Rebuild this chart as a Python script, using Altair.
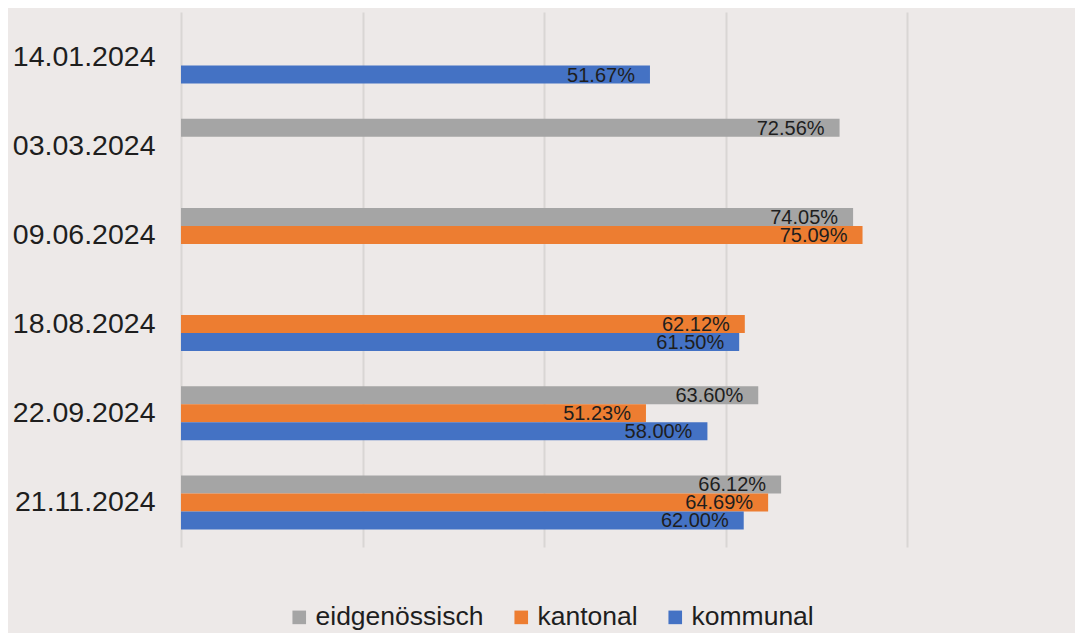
import altair as alt
import pandas as pd

dates = ["14.01.2024", "03.03.2024", "09.06.2024", "18.08.2024", "22.09.2024", "21.11.2024"]
series = ["eidgenössisch", "kantonal", "kommunal"]
colors = ["#A5A5A5", "#ED7D31", "#4472C4"]

eidgenoessisch = [None, 72.56, 74.05, None, 63.60, 66.12]
kantonal = [None, None, 75.09, 62.12, 51.23, 64.69]
kommunal = [51.67, None, None, 61.50, 58.00, 62.00]

rows = []
for name, vals in zip(series, [eidgenoessisch, kantonal, kommunal]):
    for d, v in zip(dates, vals):
        if v is not None:
            rows.append({"datum": d, "ebene": name, "wert": v})
df = pd.DataFrame(rows)

FONT = "Liberation Sans"
TXT = "#1e1e1e"

y_enc = alt.Y(
    "datum:N",
    sort=dates,
    scale=alt.Scale(domain=dates, paddingInner=0.393, paddingOuter=0.1965),
    axis=alt.Axis(
        title=None, domain=False, ticks=False, labelFontSize=28.5,
        labelFont=FONT, labelColor=TXT, labelPadding=26, grid=False,
    ),
)
yoff_enc = alt.YOffset(
    "ebene:N",
    scale=alt.Scale(domain=series, paddingInner=0, paddingOuter=0),
)
x_enc = alt.X(
    "wert:Q",
    scale=alt.Scale(domain=[0, 98.5], nice=False, zero=True),
    axis=alt.Axis(
        title=None, labels=False, ticks=False, domain=False,
        values=[0, 20, 40, 60, 80], grid=True, gridColor="#D9D6D4", gridWidth=2,
    ),
)

bars = alt.Chart(df).mark_bar(size=18).encode(
    y=y_enc,
    yOffset=yoff_enc,
    x=x_enc,
    color=alt.Color(
        "ebene:N",
        scale=alt.Scale(domain=series, range=colors),
        legend=alt.Legend(
            title=None, orient="none", direction="horizontal",
            legendX=105, legendY=592,
            symbolType="square", symbolSize=185, symbolStrokeWidth=0,
            labelFontSize=26.5, labelFont=FONT, labelColor=TXT,
            labelOffset=3, columnPadding=24, labelLimit=400,
        ),
    ),
)

labels = alt.Chart(df).transform_calculate(
    txt="format(datum.wert, '.2f') + '%'"
).mark_text(
    align="right", baseline="middle", dx=-15, dy=1, fontSize=20,
    font=FONT, color=TXT,
).encode(
    y=y_enc,
    yOffset=yoff_enc,
    x=x_enc,
    text="txt:N",
)

chart = (bars + labels).properties(
    width=894,
    height=535,
    background="#EDE9E8",
    autosize=alt.AutoSizeParams(type="none"),
    padding={"left": 173, "top": 4, "right": 0, "bottom": 86},
).configure_view(stroke=None)

chart.save("out.html", embed_options={"renderer": "svg", "actions": False})
